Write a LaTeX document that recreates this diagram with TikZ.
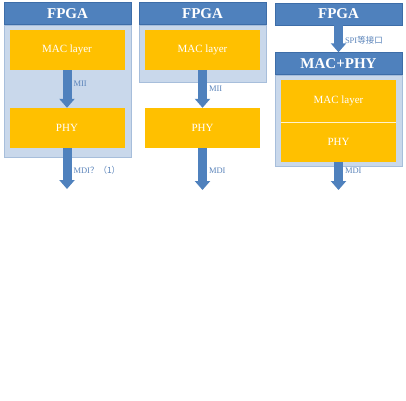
\documentclass[tikz,border=0pt]{standalone}
\usepackage{fontspec}
\setmainfont{Liberation Serif}
\newfontfamily\cjk{Noto Sans CJK SC}
\usetikzlibrary{arrows.meta}

\definecolor{hdrblue}{HTML}{4F81BD}
\definecolor{hdredge}{HTML}{3D6DA8}
\definecolor{boxblue}{HTML}{C9D8EB}
\definecolor{boxedge}{HTML}{A7BEDB}
\definecolor{macorange}{HTML}{FFC000}
\definecolor{lblblue}{HTML}{5B84BA}

\tikzset{
	header/.style = {draw=hdredge, fill=hdrblue, text=white, font=\bfseries\fontsize{15}{17}\selectfont,
		minimum width=127pt, minimum height=22pt, inner sep=0pt},
	holder/.style = {draw=boxedge, fill=boxblue, line width=1pt},
	layer/.style = {fill=macorange, text=white, font=\fontsize{11}{13}\selectfont,
		minimum width=115pt, minimum height=40pt, inner sep=0pt},
	link/.style = {draw=hdrblue, line width=9pt, -{Triangle[width=15pt,length=9pt]}},
	lbl/.style = {right, text=lblblue, font=\fontsize{8.5}{10}\selectfont, inner sep=2pt}
}

\begin{document}
\begin{tikzpicture}[x=1pt, y=-1pt]
	\useasboundingbox (0,0) rectangle (406,400);
	% left: MAC and PHY both inside the FPGA
	\draw[holder] (4,25) rectangle (131,157);
	\node[header] (fpgaA) at (67.5,13.5) {FPGA};
	\node[layer] (macA) at (67,50) {MAC layer};
	\node[layer] (phyA) at (67,128) {PHY};
	\coordinate (outA) at (67,189);
		\draw[link] (macA) -- node[lbl, pos=0.35] {MII} (phyA);
		\draw[link] (phyA) -- node[lbl, pos=0.55] {MDI{\cjk ？（1）}} (outA);

	% middle: PHY outside
	\draw[holder] (139,25) rectangle (266,82);
	\node[header] (fpgaB) at (202.5,13.5) {FPGA};
	\node[layer] (macB) at (202.5,50) {MAC layer};
	\node[layer] (phyB) at (202.5,128) {PHY};
	\coordinate (outB) at (202.5,190);
		\draw[link] (macB) -- node[lbl, pos=0.5] {MII} (phyB);
		\draw[link] (phyB) -- node[lbl, pos=0.55] {MDI} (outB);

	% right: separate MAC+PHY chip
	\draw[holder] (275,75) rectangle (402,166);
	\node[header] (fpgaC) at (338.5,14) {FPGA};
	\node[header] (chipC) at (338.5,63.5) {MAC+PHY};
	\node[layer, minimum height=42pt] (macC) at (338.5,101) {MAC layer};
	\node[layer] (phyC) at (338.5,142) {PHY};
	\draw[white!80!macorange, line width=0.8pt] (macC.south west) -- (macC.south east);
	\coordinate (outC) at (338.5,190);
		\draw[link] (fpgaC) -- node[lbl, pos=0.55] {SPI{\cjk 等接口}} (chipC);
		\draw[link] (phyC) -- node[lbl, pos=0.3] {MDI} (outC);
\end{tikzpicture}
\end{document}
